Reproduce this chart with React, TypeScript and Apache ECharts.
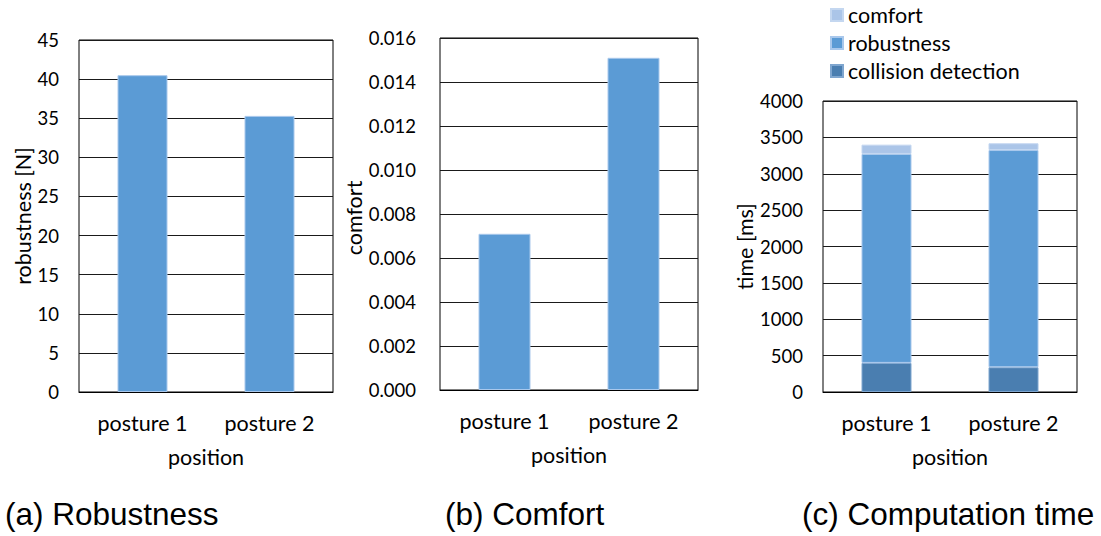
import React, { useEffect, useRef } from "react";
import * as echarts from "echarts";

const categories = ["posture 1", "posture 2"];
const robustnessValues = [40.5, 35.3];
const comfortValues = [0.0071, 0.0151];
const timeCollision = [400, 340];
const timeRobustness = [2872, 2986];
const timeComfort = [128, 93];
const legendNames = ["comfort", "robustness", "collision detection"];

const FONT = "Lato";
const TXT = "#000";
const C_COMFORT = "#abc5e8";
const C_ROB = "#5b9bd5";
const C_COLL = "#4a7eb0";

export default function App() {
  const ref = useRef<HTMLDivElement>(null);
  useEffect(() => {
    if (!ref.current) return;
    const chart = echarts.init(ref.current, undefined, { renderer: "svg" });
    const tickStyle = { color: TXT, fontFamily: FONT, fontSize: 18.5 };
    const textStyle = { color: TXT, fontFamily: FONT, fontSize: 21.5 };
    const gridCommon = { show: true, borderColor: "#000", borderWidth: 1, containLabel: false };
    const xAxisCommon = (gridIndex: number) => ({
      type: "category",
      gridIndex,
      data: categories,
      axisTick: { show: false },
      axisLine: { lineStyle: { color: "#000", width: 1 } },
      axisLabel: { ...textStyle, margin: 20 },
      name: "position",
      nameLocation: "middle",
      nameGap: 54,
      nameTextStyle: { ...textStyle },
    });
    const splitLine = { show: true, lineStyle: { color: "#1a1a1a", width: 1 } };
    const barBorder = { borderColor: "#a9c8ec", borderWidth: 1 };
    chart.setOption({
      animation: false,
      backgroundColor: "#fff",
      grid: [
        { ...gridCommon, left: 79, top: 40, width: 254, height: 352 },
        { ...gridCommon, left: 440, top: 38, width: 258, height: 352 },
        { ...gridCommon, left: 823, top: 101, width: 254, height: 291 },
      ],
      legend: {
        data: legendNames,
        orient: "vertical",
        left: 825,
        top: -1,
        itemWidth: 12,
        itemHeight: 12,
        itemGap: 6,
        icon: "rect",
        textStyle: { ...textStyle },
      },
      xAxis: [xAxisCommon(0), xAxisCommon(1), xAxisCommon(2)],
      yAxis: [
        {
          type: "value",
          gridIndex: 0,
          min: 0,
          max: 45,
          interval: 5,
          axisLine: { show: false },
          axisTick: { show: false },
          axisLabel: { ...tickStyle, margin: 20 },
          splitLine,
          name: "robustness [N]",
          nameLocation: "middle",
          nameGap: 44,
          nameTextStyle: { ...textStyle },
        },
        {
          type: "value",
          gridIndex: 1,
          min: 0,
          max: 0.016,
          interval: 0.002,
          axisLine: { show: false },
          axisTick: { show: false },
          axisLabel: { ...tickStyle, margin: 24, formatter: (v: number) => v.toFixed(3) },
          splitLine,
          name: "comfort",
          nameLocation: "middle",
          nameGap: 64,
          nameTextStyle: { ...textStyle, padding: [0, 0, 0, -8] },
        },
        {
          type: "value",
          gridIndex: 2,
          min: 0,
          max: 4000,
          interval: 500,
          axisLine: { show: false },
          axisTick: { show: false },
          axisLabel: { ...tickStyle, margin: 20, formatter: (v: number) => String(v) },
          splitLine,
          name: "time [ms]",
          nameLocation: "middle",
          nameGap: 67,
          nameTextStyle: { ...textStyle },
        },
      ],
      series: [
        {
          type: "bar",
          xAxisIndex: 0,
          yAxisIndex: 0,
          data: robustnessValues,
          barWidth: 50,
          itemStyle: { color: C_ROB, ...barBorder },
        },
        {
          type: "bar",
          xAxisIndex: 1,
          yAxisIndex: 1,
          data: comfortValues,
          barWidth: 52,
          itemStyle: { color: C_ROB, ...barBorder },
        },
        {
          name: "collision detection",
          type: "bar",
          stack: "t",
          xAxisIndex: 2,
          yAxisIndex: 2,
          data: timeCollision,
          barWidth: 50,
          itemStyle: { color: C_COLL, borderColor: "#7fa6cf", borderWidth: 1 },
        },
        {
          name: "robustness",
          type: "bar",
          stack: "t",
          xAxisIndex: 2,
          yAxisIndex: 2,
          data: timeRobustness,
          barWidth: 50,
          itemStyle: { color: C_ROB, ...barBorder },
        },
        {
          name: "comfort",
          type: "bar",
          stack: "t",
          xAxisIndex: 2,
          yAxisIndex: 2,
          data: timeComfort,
          barWidth: 50,
          itemStyle: { color: C_COMFORT, borderColor: "#c4d7f0", borderWidth: 1 },
        },
      ],
      graphic: [
        {
          type: "text",
          left: 5,
          top: 498,
          style: { text: "(a) Robustness", fontFamily: "Liberation Sans", fontSize: 31.5, fill: "#000" },
        },
        {
          type: "text",
          left: 445,
          top: 498,
          style: { text: "(b) Comfort", fontFamily: "Liberation Sans", fontSize: 31.5, fill: "#000" },
        },
        {
          type: "text",
          left: 802,
          top: 498,
          style: { text: "(c) Computation time", fontFamily: "Liberation Sans", fontSize: 31.5, fill: "#000" },
        },
      ],
    });
    return () => chart.dispose();
  }, []);
  return (
    <div
      ref={ref}
      style={{ position: "fixed", left: 0, top: 0, width: 1101, height: 536 }}
    />
  );
}
